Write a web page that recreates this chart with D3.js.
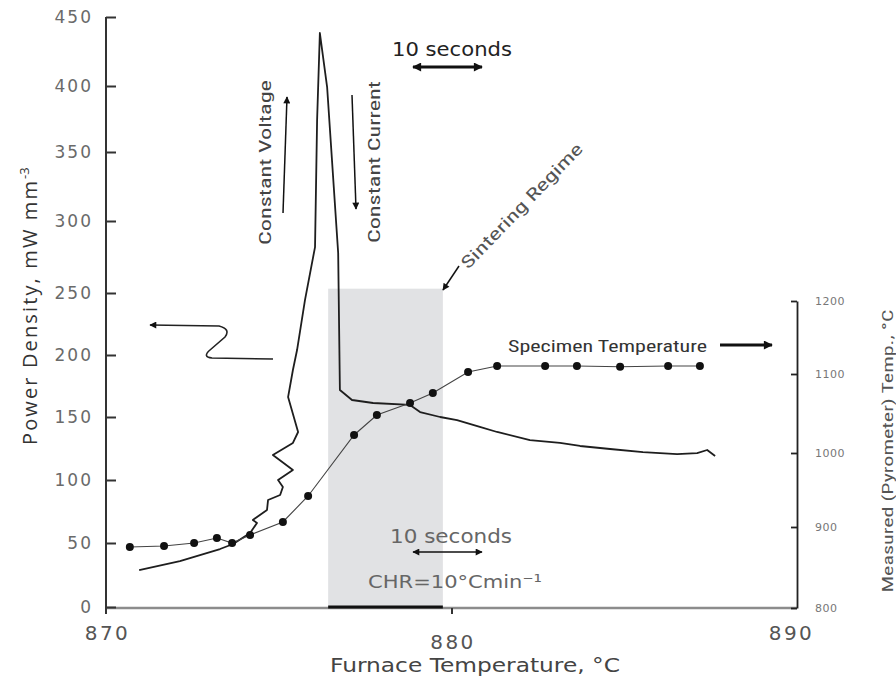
<!DOCTYPE html>
<html>
<head>
<meta charset="utf-8">
<script src="https://cdn.jsdelivr.net/npm/d3@7"></script>
<style>
body { margin: 0; background: #fff; }
</style>
</head>
<body>
<svg width="896" height="681"></svg>
<script>
// ---------------- data ----------------
const xTicks = [870, 880, 890];
const leftTicks = [0, 50, 100, 150, 200, 250, 300, 350, 400, 450];
const rightTicks = [800, 900, 1000, 1100, 1200];

// power density trace (furnace temp, mW mm-3)
const powerT = [870.96, 872.14, 873.30, 873.68, 874.17, 874.37, 874.25, 874.66, 874.69, 875.04,
  875.12, 874.98, 875.41, 874.83, 875.41, 875.56, 875.27, 875.41, 875.53, 875.76,
  876.05, 876.11, 876.19, 876.40, 876.72, 876.77, 877.12, 877.73, 878.80, 879.09,
  879.67, 880.16, 880.82, 881.32, 882.27, 883.14, 883.72, 884.59, 885.54, 886.53,
  887.11, 887.40, 887.63];
const powerP = [28.9, 35.9, 45.3, 49.2, 57.9, 65.9, 68.3, 76.2, 84.1, 88.1,
  94.4, 100, 107.9, 119.8, 129.4, 138.1, 166.1, 187.9, 204.0, 244.4,
  281.9, 374.2, 438.4, 399.2, 277.8, 171.8, 163.7, 161.3, 159.7, 154.0,
  150, 147.6, 142.1, 138.1, 131.7, 129.4, 127.0, 124.6, 122.2, 120.6,
  121.4, 123.8, 119.0];

// specimen (pyrometer) temperature points
const specT = [870.69, 871.68, 872.55, 873.21, 873.65, 874.17, 875.12, 875.85, 877.18, 877.84,
  878.80, 879.46, 880.48, 881.32, 882.71, 883.63, 884.88, 886.27, 887.19];
const specTemp = [875.3, 876.5, 880.2, 886.4, 880.2, 890.1, 906.8, 941.9, 1022.8, 1048.1,
  1063.3, 1075.9, 1102.7, 1111.0, 1111.0, 1111.0, 1110, 1111.0, 1111.0];

// sintering regime band
const sinterRange = [876.43, 879.75];
const sinterTop = 253;

// ---------------- scales ----------------
const svg = d3.select("svg");
const x = d3.scaleLinear().domain([870, 890]).range([106, 797]);
// the scanned axes are slightly uneven, so follow the printed tick positions
const yL = d3.scaleLinear().domain(leftTicks).range([607, 543, 480, 417, 355, 293, 221, 152, 86, 17]);
const yR = d3.scaleLinear().domain(rightTicks).range([608, 527, 453, 374, 301]);

// markers
const defs = svg.append("defs");
function marker(id, w, h) {
  defs.append("marker")
    .attr("id", id)
    .attr("viewBox", "0 -5 10 10")
    .attr("refX", 9).attr("refY", 0)
    .attr("markerUnits", "userSpaceOnUse")
    .attr("markerWidth", w).attr("markerHeight", h)
    .attr("orient", "auto-start-reverse")
    .append("path")
    .attr("d", "M0,-5L10,0L0,5Z")
    .attr("fill", "#111");
}
marker("ah", 9, 7);
marker("ahBig", 13, 9);

// ---------------- shaded sintering band ----------------
svg.append("rect")
  .attr("x", x(sinterRange[0]))
  .attr("y", yL(sinterTop))
  .attr("width", x(sinterRange[1]) - x(sinterRange[0]))
  .attr("height", yL(0) - yL(sinterTop))
  .attr("fill", "#e1e2e4");

// ---------------- axes ----------------
// bottom axis line (grey)
svg.append("line")
  .attr("x1", x(870)).attr("x2", x(890))
  .attr("y1", 608).attr("y2", 608)
  .attr("stroke", "#8c8c8c").attr("stroke-width", 2.5);
svg.append("line")
  .attr("x1", x(sinterRange[0])).attr("x2", x(sinterRange[1]))
  .attr("y1", 607).attr("y2", 607)
  .attr("stroke", "#111").attr("stroke-width", 3);

const xAxis = svg.append("g")
  .attr("transform", "translate(0,608)")
  .call(d3.axisBottom(x).tickValues(xTicks).tickSizeInner(6).tickSizeOuter(0).tickPadding(12).tickFormat(d3.format("d")));
xAxis.select(".domain").remove();
xAxis.selectAll(".tick line").attr("stroke", "#333").attr("stroke-width", 2)
  .attr("display", d => d === 880 ? null : "none");
xAxis.selectAll("text")
  .attr("font-family", "DejaVu Sans, sans-serif")
  .attr("font-size", 20)
  .attr("letter-spacing", 2.5)
  .attr("fill", "#555")
  .attr("dy", d => d === 880 ? "1.15em" : "0.71em")
  .attr("dx", d => d === 890 ? -6 : 1);

const leftAxis = svg.append("g")
  .attr("transform", "translate(106,0)")
  .call(d3.axisLeft(yL).tickValues(leftTicks).tickSizeInner(-10).tickSizeOuter(0).tickPadding(13));
leftAxis.select(".domain").remove();
leftAxis.append("line")
  .attr("y1", yL(450)).attr("y2", 614)
  .attr("stroke", "#333").attr("stroke-width", 2);
leftAxis.selectAll(".tick line").attr("stroke", "#333").attr("stroke-width", 2);
leftAxis.selectAll("text")
  .attr("font-family", "DejaVu Sans, sans-serif")
  .attr("font-size", 17)
  .attr("letter-spacing", 2)
  .attr("fill", "#6a6a6a");

const rightAxis = svg.append("g")
  .attr("transform", "translate(797,0)")
  .call(d3.axisRight(yR).tickValues(rightTicks).tickSizeInner(-6).tickSizeOuter(0).tickPadding(18).tickFormat(d3.format("d")));
rightAxis.select(".domain").attr("stroke", "#222").attr("stroke-width", 1.8);
rightAxis.selectAll(".tick line").attr("stroke", "#222").attr("stroke-width", 1.8);
rightAxis.selectAll("text")
  .attr("font-family", "DejaVu Sans, sans-serif")
  .attr("font-size", 11)
  .attr("letter-spacing", 0.5)
  .attr("fill", "#777");

// ---------------- series ----------------
const powerData = powerT.map((t, i) => [t, powerP[i]]);
svg.append("path")
  .datum(powerData)
  .attr("fill", "none")
  .attr("stroke", "#1e1e1e")
  .attr("stroke-width", 1.8)
  .attr("stroke-linejoin", "round")
  .attr("d", d3.line().x(d => x(d[0])).y(d => yL(d[1])));

const specData = specT.map((t, i) => [t, specTemp[i]]);
svg.append("path")
  .datum(specData)
  .attr("fill", "none")
  .attr("stroke", "#444")
  .attr("stroke-width", 1.1)
  .attr("d", d3.line().x(d => x(d[0])).y(d => yR(d[1])));
svg.selectAll(".dot")
  .data(specData)
  .enter()
  .append("circle")
  .attr("class", "dot")
  .attr("cx", d => x(d[0]))
  .attr("cy", d => yR(d[1]))
  .attr("r", 4)
  .attr("fill", "#111");

// ---------------- titles ----------------
const cond = "Liberation Sans Narrow, Roboto Condensed, Liberation Sans, sans-serif";

svg.append("text")
  .attr("x", 330).attr("y", 672)
  .attr("font-family", "DejaVu Sans, sans-serif")
  .attr("font-size", 19)
  .attr("fill", "#444")
  .attr("textLength", 290)
  .attr("lengthAdjust", "spacingAndGlyphs")
  .text("Furnace Temperature, °C");

const yTitle = svg.append("text")
  .attr("transform", "translate(37,445) rotate(-90)")
  .attr("font-family", "Open Sans, Liberation Sans, sans-serif")
  .attr("font-size", 20)
  .attr("fill", "#333");
yTitle.append("tspan")
  .attr("textLength", 264)
  .attr("lengthAdjust", "spacing")
  .text("Power Density, mW mm");
yTitle.append("tspan").attr("dy", -8).attr("font-size", 13).text("-3");

svg.append("text")
  .attr("transform", "translate(893,451) rotate(-90)")
  .attr("text-anchor", "middle")
  .attr("font-family", cond)
  .attr("font-size", 14)
  .attr("fill", "#555")
  .attr("textLength", 283)
  .attr("lengthAdjust", "spacingAndGlyphs")
  .text("Measured (Pyrometer) Temp., °C");

// ---------------- annotations ----------------
function note(txt, tr, len, size, fill, font) {
  svg.append("text")
    .attr("transform", tr)
    .attr("font-family", font || cond)
    .attr("font-size", size)
    .attr("fill", fill)
    .attr("textLength", len)
    .attr("lengthAdjust", "spacingAndGlyphs")
    .text(txt);
}
function arrow(x1, y1, x2, y2, w, id, both) {
  svg.append("line")
    .attr("x1", x1).attr("y1", y1).attr("x2", x2).attr("y2", y2)
    .attr("stroke", "#111").attr("stroke-width", w)
    .attr("marker-end", "url(#" + id + ")")
    .attr("marker-start", both ? "url(#" + id + ")" : null);
}

note("Constant Voltage", "translate(271,245) rotate(-90)", 165, 17, "#444");
arrow(283, 213, 287, 97, 1.5, "ah");
note("Constant Current", "translate(380,243) rotate(-90)", 162, 17, "#444");
arrow(352, 95, 356, 209, 1.5, "ah");

note("10 seconds", "translate(392,56)", 120, 20, "#222", "DejaVu Sans, sans-serif");
arrow(413, 67, 482, 67, 3, "ahBig", true);

note("10 seconds", "translate(390,543)", 122, 20, "#666", "DejaVu Sans, sans-serif");
arrow(413, 552, 482, 552, 1.5, "ah", true);
note("CHR=10°Cmin⁻¹", "translate(368,588)", 174, 18, "#666", "DejaVu Sans, sans-serif");

note("Sintering Regime", "translate(468,270) rotate(-46)", 167, 17, "#555");
arrow(459, 266, 443, 290, 1.5, "ah");

note("Specimen Temperature", "translate(508,352)", 199, 17, "#333");
arrow(720, 345, 772, 345, 3, "ahBig");

// power axis pointer
svg.append("path")
  .attr("d", "M273,359 L212,358 Q202,357 210,350 L225,337 Q231,329 219,326 L150,325")
  .attr("fill", "none")
  .attr("stroke", "#222")
  .attr("stroke-width", 1.6)
  .attr("marker-end", "url(#ah)");
</script>
</body>
</html>
